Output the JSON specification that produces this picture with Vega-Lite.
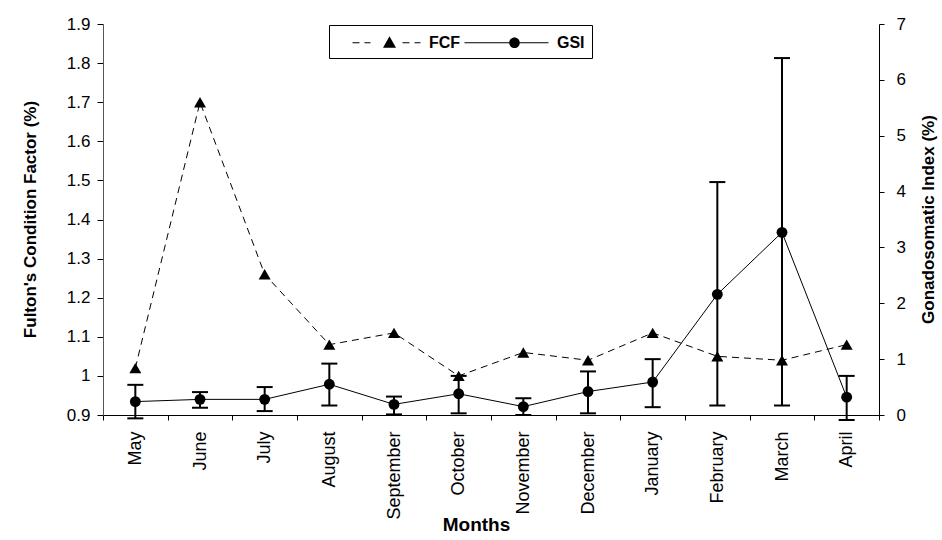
{
  "$schema": "https://vega.github.io/schema/vega-lite/v6.json",
  "width": 776,
  "height": 391,
  "autosize": {"type": "none"},
  "padding": {"left": 103, "top": 24, "right": 63, "bottom": 125},
  "background": "white",
  "config": {
    "view": {"stroke": null},
    "font": "Liberation Sans",
    "axis": {
      "labelFont": "Liberation Sans",
      "titleFont": "Liberation Sans",
      "labelColor": "black",
      "titleColor": "black",
      "domainColor": "black",
      "tickColor": "black",
      "grid": false,
      "labelFontSize": 17,
      "titleFontSize": 17,
      "titleFontWeight": "bold"
    }
  },
  "data": {
    "values": [
      {"month": "May", "fcf": 1.02, "gsi": 0.24, "lo": -0.06, "hi": 0.54},
      {"month": "June", "fcf": 1.70, "gsi": 0.28, "lo": 0.13, "hi": 0.41},
      {"month": "July", "fcf": 1.26, "gsi": 0.28, "lo": 0.07, "hi": 0.50},
      {"month": "August", "fcf": 1.08, "gsi": 0.55, "lo": 0.17, "hi": 0.92},
      {"month": "September", "fcf": 1.11, "gsi": 0.19, "lo": 0.01, "hi": 0.33},
      {"month": "October", "fcf": 1.00, "gsi": 0.38, "lo": 0.03, "hi": 0.70},
      {"month": "November", "fcf": 1.06, "gsi": 0.15, "lo": 0.0, "hi": 0.30},
      {"month": "December", "fcf": 1.04, "gsi": 0.42, "lo": 0.03, "hi": 0.78},
      {"month": "January", "fcf": 1.11, "gsi": 0.59, "lo": 0.14, "hi": 1.00},
      {"month": "February", "fcf": 1.05, "gsi": 2.16, "lo": 0.17, "hi": 4.17},
      {"month": "March", "fcf": 1.04, "gsi": 3.27, "lo": 0.17, "hi": 6.39},
      {"month": "April", "fcf": 1.08, "gsi": 0.32, "lo": -0.09, "hi": 0.70}
    ]
  },
  "encoding": {
    "x": {
      "field": "month",
      "type": "nominal",
      "sort": ["May", "June", "July", "August", "September", "October", "November", "December", "January", "February", "March", "April"],
      "scale": {"type": "band", "paddingInner": 0, "paddingOuter": 0},
      "axis": {
        "title": "Months",
        "titleFontSize": 19,
        "titleX": 373,
        "titleY": 115,
        "titleBaseline": "alphabetic",
        "titleAnchor": null,
        "titleAlign": "center",
        "tickBand": "extent",
        "tickSize": 5,
        "labelAngle": -90,
        "labelFontSize": 18,
        "labelPadding": 11,
        "domainWidth": 1
      }
    }
  },
  "layer": [
    {
      "layer": [
        {
          "mark": {"type": "line", "color": "black", "strokeWidth": 1, "strokeDash": [7, 5]},
          "encoding": {
            "y": {
              "field": "fcf",
              "type": "quantitative",
              "title": "Fulton's Condition Factor  (%)",
              "scale": {"domain": [0.9, 1.9], "nice": false, "zero": false},
              "axis": {
                "orient": "left",
                "values": [0.9, 1, 1.1, 1.2, 1.3, 1.4, 1.5, 1.6, 1.7, 1.8, 1.9],
                "format": "~g",
                "labelOverlap": false,
                "tickSize": 6,
                "labelPadding": 7,
                "titleAngle": 270,
                "titleX": -73,
                "titleY": 195,
                "titleBaseline": "middle",
                "titleAlign": "center",
                "domainColor": "#555555"
              }
            }
          }
        },
        {
          "mark": {"type": "point", "shape": "triangle-up", "filled": true, "color": "black", "opacity": 1, "size": 144},
          "encoding": {
            "y": {
              "field": "fcf",
              "type": "quantitative",
              "title": "Fulton's Condition Factor  (%)",
              "scale": {"domain": [0.9, 1.9], "nice": false, "zero": false},
              "axis": {
                "orient": "left",
                "values": [0.9, 1, 1.1, 1.2, 1.3, 1.4, 1.5, 1.6, 1.7, 1.8, 1.9],
                "format": "~g",
                "labelOverlap": false,
                "tickSize": 6,
                "labelPadding": 7,
                "titleAngle": 270,
                "titleX": -73,
                "titleY": 195,
                "titleBaseline": "middle",
                "titleAlign": "center",
                "domainColor": "#555555"
              }
            }
          }
        }
      ]
    },
    {
      "layer": [
        {
          "mark": {"type": "rule", "color": "black", "strokeWidth": 2},
          "encoding": {
            "y": {
              "field": "lo",
              "type": "quantitative",
              "title": "Gonadosomatic Index (%)",
              "scale": {"domain": [0, 7], "nice": false, "zero": false},
              "axis": {
                "orient": "right",
                "values": [0, 1, 2, 3, 4, 5, 6, 7],
                "format": "d",
                "tickSize": 5,
                "labelPadding": 12,
                "titleAngle": 270,
                "titleX": 49,
                "titleY": 195,
                "titleBaseline": "middle",
                "titleAlign": "center"
              }
            },
            "y2": {"field": "hi"}
          }
        },
        {
          "mark": {"type": "tick", "color": "black", "thickness": 2, "size": 16, "opacity": 1},
          "encoding": {
            "y": {"field": "lo", "type": "quantitative", "title": "Gonadosomatic Index (%)"}
          }
        },
        {
          "mark": {"type": "tick", "color": "black", "thickness": 2, "size": 16, "opacity": 1},
          "encoding": {
            "y": {"field": "hi", "type": "quantitative", "title": "Gonadosomatic Index (%)"}
          }
        },
        {
          "mark": {"type": "line", "color": "black", "strokeWidth": 1},
          "encoding": {
            "y": {"field": "gsi", "type": "quantitative", "title": "Gonadosomatic Index (%)"}
          }
        },
        {
          "mark": {"type": "point", "shape": "circle", "filled": true, "color": "black", "opacity": 1, "size": 118},
          "encoding": {
            "y": {"field": "gsi", "type": "quantitative", "title": "Gonadosomatic Index (%)"}
          }
        }
      ]
    },
    {
      "data": {"values": [{"series": "FCF"}, {"series": "GSI"}]},
      "transform": [{"filter": "datum.series == 'none'"}],
      "mark": {"type": "point", "filled": true, "fill": "black", "stroke": "black", "strokeWidth": 1, "opacity": 1},
      "encoding": {
        "shape": {
          "field": "series",
          "type": "nominal",
          "scale": {
            "domain": ["FCF", "GSI"],
            "range": [
              "M0.6,-0.05H1.3V0.05H0.6ZM1.8,-0.05H2.4V0.05H1.8ZM5.6,-0.05H6.3V0.05H5.6ZM6.8,-0.05H7.4V0.05H6.8ZM4.3,-0.65L4.95,0.5L3.65,0.5Z",
              "M-1,-0.05H7.4V0.05H-1ZM4.53,0A0.53,0.53,0,1,1,3.47,0A0.53,0.53,0,1,1,4.53,0Z"
            ]
          },
          "legend": {
            "orient": "none",
            "legendX": 226,
            "legendY": 1,
            "direction": "horizontal",
            "title": null,
            "strokeColor": "black",
            "fillColor": "white",
            "padding": 7,
            "symbolSize": 400,
            "symbolFillColor": "black",
            "symbolStrokeColor": "black",
            "symbolStrokeWidth": 1,
            "symbolOpacity": 1,
            "labelOffset": 72,
            "columnPadding": 1,
            "labelFont": "Liberation Sans",
            "labelFontSize": 16,
            "labelFontWeight": "bold",
            "labelColor": "black"
          }
        }
      }
    }
  ],
  "resolve": {"scale": {"y": "independent"}}
}
